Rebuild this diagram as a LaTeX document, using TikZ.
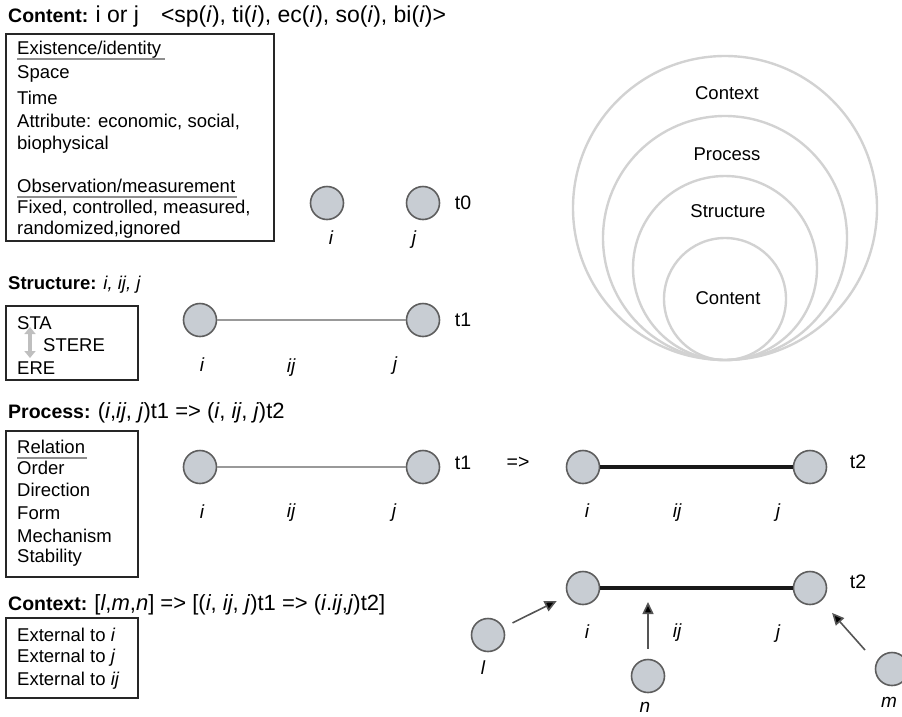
\documentclass[tikz,border=0pt]{standalone}
\usepackage{fontspec}
\setmainfont{Liberation Sans}
\usetikzlibrary{arrows.meta}
\definecolor{nodefill}{HTML}{C8CDD3}
\definecolor{nodeedge}{HTML}{5E5E5E}
\definecolor{ringgray}{HTML}{D2D2D2}
\definecolor{ulgray}{HTML}{8E8E8E}
\definecolor{linkgray}{HTML}{999999}
\definecolor{arrgray}{HTML}{555555}
\newcommand{\tbig}{\fontsize{22}{24}\selectfont}
\begin{document}
\begin{tikzpicture}[x=1pt,y=-1pt,
  ent/.style={circle,minimum size=33pt,inner sep=0pt,fill=nodefill,draw=nodeedge,line width=1.6pt},
  lbl/.style={font=\fontsize{19}{22}\selectfont\itshape,inner sep=0pt},
  tlbl/.style={font=\fontsize{19.5}{22}\selectfont,inner sep=0pt},
  boxt/.style={font=\fontsize{18.5}{22}\selectfont,anchor=west,inner sep=0pt},
  ttl/.style={font=\fontsize{19.5}{22}\selectfont,anchor=west,inner sep=0pt},
  frame/.style={draw=black!85,line width=2.4pt,rectangle,anchor=north west,inner sep=0pt},
  uline/.style={draw=ulgray,line width=2.4pt},
  weak/.style={draw=linkgray,line width=2pt},
  strong/.style={draw=black!90,line width=4.5pt},
  ring/.style={draw=ringgray,line width=2.4pt},
  ringlbl/.style={font=\fontsize{18.5}{22}\selectfont,inner sep=0pt},
  carrow/.style={draw=arrgray,line width=1.6pt,-{Triangle[length=12pt,width=11pt,fill=black]}}
]
\useasboundingbox (0,0) rectangle (902,716);

% ---------- titles ----------
\node[ttl] (t1) at (8,17) {\textbf{Content:} {\fontsize{23}{24}\selectfont i or j\hspace{22pt}<sp(\textit{i}), ti(\textit{i}), ec(\textit{i}), so(\textit{i}), bi(\textit{i})>}};
\node[ttl,font=\fontsize{18.5}{20}\selectfont] (t2) at (8,285) {\textbf{Structure:} \textit{i, ij, j}};
\node[ttl] (t3) at (8,413) {\textbf{Process:} {\tbig(\textit{i},\textit{ij}, \textit{j})t1 => (\textit{i}, \textit{ij}, \textit{j})t2}};
\node[ttl] (t4) at (8,605) {\textbf{Context:} {\tbig[\textit{l},\textit{m},\textit{n}] => [(\textit{i}, \textit{ij}, \textit{j})t1 => (\textit{i}.\textit{ij},\textit{j})t2]}};

% ---------- box 1 ----------
\node[frame,minimum width=268pt,minimum height=207pt] (b1) at (5,33) {};
\node[boxt] (e1) at (17,50) {Existence/identity};
\node[boxt] (e2) at (17,74) {Space};
\node[boxt] (e3) at (17,98) {Time};
\node[boxt] (e4) at (17,122) {Attribute: economic, social,};
\node[boxt] (e5) at (17,145) {biophysical};
\node[boxt] (e6) at (17,186) {Observation/measurement};
\node[boxt] (e7) at (17,208) {Fixed, controlled, measured,};
\node[boxt] (e8) at (17,230) {randomized,ignored};
\draw[uline] ([yshift=-4.5pt]e1.base west) -- ([xshift=4pt,yshift=-4.5pt]e1.base east);
\draw[uline] ([yshift=-4.5pt]e6.base west) -- ([xshift=2pt,yshift=-4.5pt]e6.base east);

% ---------- box 2 ----------
\node[frame,minimum width=132pt,minimum height=74pt] (b2) at (5,305) {};
\node[boxt] (s1) at (17,323) {STA};
\node[boxt] (s2) at (43,345) {STERE};
\node[boxt] (s3) at (17,368) {ERE};
\coordinate (sa) at (30,327);
\coordinate (sb) at (30,358);
\draw[draw=gray!50,line width=3.5pt,{Triangle[length=7pt,width=11pt]}-{Triangle[length=7pt,width=11pt]}] (sa) -- (sb);

% ---------- box 3 ----------
\node[frame,minimum width=132pt,minimum height=146pt] (b3) at (5,430) {};
\node[boxt] (p1) at (17,447) {Relation};
\node[boxt] (p2) at (17,468) {Order};
\node[boxt] (p3) at (17,490) {Direction};
\node[boxt] (p4) at (17,513) {Form};
\node[boxt] (p5) at (17,536) {Mechanism};
\node[boxt] (p6) at (17,558) {Stability};
\draw[uline] ([yshift=-4.5pt]p1.base west) -- ([xshift=2pt,yshift=-4.5pt]p1.base east);

% ---------- box 4 ----------
\node[frame,minimum width=132pt,minimum height=80pt] (b4) at (5,617) {};
\node[boxt] (c1) at (17,635) {External to \textit{i}};
\node[boxt] (c2) at (17,658) {External to \textit{j}};
\node[boxt] (c3) at (17,681) {External to \textit{ij}};

% ---------- t0 ----------
\node[ent] (ai) at (327,203) {};
\node[ent] (aj) at (423,203) {};
\node[tlbl] (at) at (463,203) {t0};
\node[lbl] (ail) at (331,238) {i};
\node[lbl] (ajl) at (414,240) {j};

% ---------- structure t1 ----------
\node[ent] (si) at (200,320) {};
\node[ent] (sj) at (423,320) {};
\draw[weak] (si) -- (sj);
\node[tlbl] (st) at (463,320) {t1};
\node[lbl] (sil) at (202,365) {i};
\node[lbl] (sijl) at (291,368) {ij};
\node[lbl] (sjl) at (395,366) {j};

% ---------- process ----------
\node[ent] (pi) at (200,467) {};
\node[ent] (pj) at (423,467) {};
\draw[weak] (pi) -- (pj);
\node[tlbl] (pt1) at (463,463) {t1};
\node[tlbl] (parr) at (518,463) {=>};
\node[lbl] (pil) at (202,512) {i};
\node[lbl] (pijl) at (291,513) {ij};
\node[lbl] (pjl) at (394,513) {j};

\node[ent] (qi) at (583,467) {};
\node[ent] (qj) at (810,467) {};
\draw[strong] (qi) -- (qj);
\node[tlbl] (qt) at (858,462) {t2};
\node[lbl] (qil) at (587,511) {i};
\node[lbl] (qijl) at (677,513) {ij};
\node[lbl] (qjl) at (778,513) {j};

% ---------- context ----------
\node[ent] (ci) at (583,588) {};
\node[ent] (cj) at (810,588) {};
\draw[strong] (ci) -- (cj);
\node[tlbl] (ct) at (858,582) {t2};
\node[lbl] (cil) at (587,632) {i};
\node[lbl] (cijl) at (677,633) {ij};
\node[lbl] (cjl) at (778,634) {j};

\node[ent] (cl) at (488,635) {};
\node[lbl] (cll) at (483,668) {l};
\node[ent] (cn) at (648,676) {};
\node[lbl] (cnl) at (645,707) {n};
\node[ent] (cm) at (892,669) {};
\node[lbl] (cml) at (889,702) {m};
\coordinate (cline) at (648,588);
\coordinate (ms) at (865,650);
\draw[carrow,shorten <=10pt,shorten >=12pt] (cl) -- (ci);
\draw[carrow,shorten <=10pt,shorten >=14pt] (cn) -- (cline);
\draw[carrow,shorten >=16pt] (ms) -- (cj);

% ---------- rings ----------
\draw[ring] (725,208) circle[radius=152];
\draw[ring] (725,238) circle[radius=122];
\draw[ring] (725,268) circle[radius=92];
\draw[ring] (725,299) circle[radius=61];
\node[ringlbl] (r1) at (727,93) {Context};
\node[ringlbl] (r2) at (727,154) {Process};
\node[ringlbl] (r3) at (728,211) {Structure};
\node[ringlbl] (r4) at (728,298) {Content};
\end{tikzpicture}
\end{document}
